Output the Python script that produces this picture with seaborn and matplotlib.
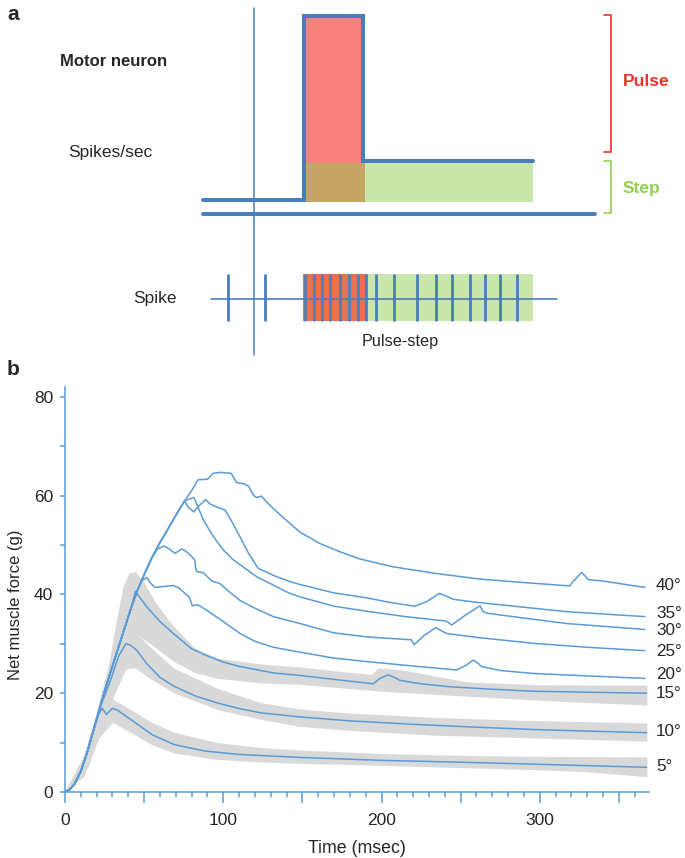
import numpy as np
import pandas as pd
import matplotlib
matplotlib.use("Agg")
import matplotlib.pyplot as plt
import seaborn as sns
from matplotlib.ticker import MultipleLocator, FuncFormatter

# ---------------- panel a: pulse-step schematic (arbitrary units) ----------------
t_start, t_onset, t_pulse_end, t_step_end, t_axis_end = -51, 50, 109, 279, 341
rate_base, rate_step, rate_pulse = 14, 53, 198
spike_times = [-26, 11, 51, 60, 68, 76, 86, 95, 104, 112,
               122, 140, 163, 182, 198, 216, 231, 246, 263]
pulse_spike_block = [49, 113]
step_spike_block = [113, 279]

# ---------------- panel b: net muscle force (g) vs time (msec) ----------------
rise_t = [0, 3, 6, 10, 14, 18, 22, 26, 30, 34, 38, 42, 46, 50, 55, 60, 65, 70, 75.5]
rise_f = [0, 0.5, 1.6, 4.2, 8, 12.5, 17, 21.5, 25.5, 29.5, 33.5, 37.5, 41, 44, 47.5, 50.5, 53.2, 56, 58.9]

t40 = [80, 84, 90, 93.5, 98, 105, 107, 108.5, 113, 116, 119, 121, 124, 129.5, 138, 148.5, 161, 174,
       186, 207, 233, 262, 290, 319, 321, 326.4, 329, 330.5, 340, 366.5]
f40 = [61, 63.2, 63.3, 64.5, 64.7, 64.5, 63.4, 62.6, 62.4, 61.9, 60.1, 59.6, 59.9, 58.0, 55.5, 52.6, 50.3, 48.6,
       47.2, 45.6, 44.3, 43.1, 42.4, 41.7, 42.6, 44.4, 43.6, 43.0, 42.7, 41.4]

t35 = [78, 81.5, 84.2, 88.9, 91.6, 97.9, 101, 105, 110.5, 116, 122, 132, 142, 148.5, 170, 190.6,
       205, 221, 228.4, 236.5, 240, 245.4, 260, 275, 317, 366.4]
f35 = [57.6, 56.7, 57.8, 59.2, 58.3, 57.4, 57.1, 55, 51.7, 48.3, 45.3, 43.8, 42.6, 42.0, 40.3, 39.3,
       38.4, 37.6, 38.5, 40.2, 39.8, 39.0, 38.4, 37.9, 36.5, 35.5]

t30 = [78.5, 81.5, 83.2, 87.4, 93.7, 100, 106.3, 121, 142, 148.5, 170, 190.6, 215, 241, 244.3,
       253, 262.2, 264, 266.5, 290, 317, 366.4]
f30 = [59.3, 59.6, 58.3, 55.1, 51.7, 49.0, 47.0, 43.6, 40.2, 39.5, 37.6, 36.6, 35.5, 34.6, 33.8,
       35.8, 37.7, 36.6, 36.2, 35.2, 34.1, 32.9]

t25 = [58.5, 62.5, 66, 69.5, 73.7, 76.5, 79, 81.9, 82.5, 83.2, 87.4, 92.7, 97.9, 102, 110.5, 120,
       131.6, 148.5, 170, 190.6, 219, 220.5, 227, 234.4, 238, 241, 260, 295.8, 330, 366.4]
f25 = [49.2, 49.8, 49.2, 48.3, 49.2, 48.7, 48.0, 47.0, 45.5, 44.6, 44.4, 42.7, 42.2, 41.0, 38.8, 37.2,
       35.5, 34.1, 32.2, 31.4, 30.8, 29.8, 31.7, 33.3, 32.6, 32.1, 31.3, 30.1, 29.3, 28.6]

t20 = [48.5, 51.6, 54, 56.9, 62, 68.4, 72, 75.8, 78.5, 80.4, 83.9, 89.5, 100, 110.5, 120, 131.6,
       148.5, 170, 190.6, 220, 247.4, 253.7, 257.9, 260.5, 263.2, 275, 295.8, 330, 366.4]
f20 = [42.8, 43.4, 42.3, 41.4, 41.6, 41.8, 41.3, 40.2, 39.5, 37.7, 37.9, 36.8, 34.5, 32.1, 30.5, 29.3,
       28.3, 27.1, 26.4, 25.5, 24.7, 25.7, 26.7, 26.2, 25.4, 24.6, 24.0, 23.5, 23.0]

t15 = [44.5, 47, 51.6, 60, 68.4, 80, 89.5, 100, 110.5, 131.6, 148.5, 170, 194.8, 199, 204.2, 208,
       211.6, 225, 243.2, 270, 295.8, 330, 367.5]
f15 = [40.6, 39.5, 37.5, 34.5, 32.1, 29.0, 27.6, 26.3, 25.4, 24.1, 23.6, 22.8, 21.9, 23.0, 23.7, 23.2,
       22.6, 21.9, 21.3, 20.8, 20.4, 20.2, 20.0]

t10 = [26, 29.5, 34, 38.5, 41, 45.3, 51.6, 60, 68.9, 82.7, 96.5, 110, 124, 148.5, 180, 220, 253.7, 300, 367.5]
f10 = [20.3, 23.3, 27.6, 30.0, 29.8, 28.7, 26.0, 23.2, 21.4, 19.4, 18.0, 16.9, 16.0, 15.2, 14.4, 13.7, 13.2, 12.6, 12.0]

t5 = [21, 23.4, 26.2, 29.8, 33, 41.4, 48, 55.1, 68.9, 88.2, 110, 148.5, 200, 253.7, 300, 367.5]
f5 = [15.5, 17.0, 15.7, 16.9, 16.6, 14.7, 13.2, 11.6, 9.6, 8.3, 7.6, 7.0, 6.4, 6.0, 5.6, 5.0]

# gray variability bands for 5, 10 and 15 deg
band15_top_t = [0, 10, 20, 28, 33, 37, 40.5, 45, 50, 57, 68, 82, 96.5, 124, 148.5, 178, 194, 198, 212, 254, 300, 368]
band15_top_f = [0, 5, 16, 26, 35, 41.5, 44.2, 44.5, 42.5, 38.5, 33.8, 29.1, 27.0, 25.8, 25.2, 24.2, 23.7, 25.0, 24.7, 22.2, 21.6, 21.5]
band15_bot_t = [0, 12, 22, 30, 37, 42.8, 47, 55, 69, 83, 96.5, 124, 148.5, 200, 254, 310, 368]
band15_bot_f = [0, 3, 12, 21, 27.8, 31.1, 31.5, 29.7, 26.3, 24.0, 22.9, 22.0, 21.7, 20.3, 19.3, 18.3, 17.5]

band10_top_t = [0, 15, 25, 33, 40, 47, 55, 69, 96.5, 124, 148.5, 179, 234, 290, 368]
band10_top_f = [0, 9, 20, 29, 31.2, 31.5, 29, 25, 20.9, 18.0, 16.7, 15.9, 15.0, 14.4, 13.9]
band10_bot_t = [0, 15, 25, 38.6, 44.1, 55, 69, 96.5, 124, 148.5, 179, 234, 290, 368]
band10_bot_f = [0, 5, 15, 24.7, 25.1, 22.7, 20, 16.6, 14.6, 13.2, 12.4, 11.4, 10.9, 10.2]

band5_top_t = [0, 10, 20, 24.9, 30.4, 41.4, 55, 69, 96.5, 124, 148.5, 200, 254, 300, 368]
band5_top_f = [0, 5, 15, 18, 18.7, 16.7, 14, 12, 9.9, 8.9, 8.4, 7.7, 7.3, 7.1, 7.0]
band5_bot_t = [0, 12, 22, 30.4, 41.4, 55, 69, 96.5, 124, 148.5, 200, 254, 300, 330, 368]
band5_bot_f = [0, 3, 11, 14, 12.0, 9.5, 7.8, 6.5, 6.0, 5.7, 5.3, 4.8, 4.4, 4.0, 3.0]

angles = [40, 35, 30, 25, 20, 15, 10, 5]
label_y = [41.7, 36.1, 32.6, 28.4, 23.7, 20.0, 12.2, 5.1]

# each curve shares the early rise, then branches off
curves = {
    40: (rise_t + t40, rise_f + f40),
    35: (rise_t + t35, rise_f + f35),
    30: (rise_t + t30, rise_f + f30),
    25: (rise_t[:15] + t25, rise_f[:15] + f25),
    20: (rise_t[:13] + t20, rise_f[:13] + f20),
    15: (rise_t[:12] + t15, rise_f[:12] + f15),
    10: (rise_t[:7] + t10, rise_f[:7] + f10),
    5: (rise_t[:6] + t5, rise_f[:6] + f5),
}
rows = []
for ang, (tt, ff) in curves.items():
    for a, b in zip(tt, ff):
        rows.append((ang, a, b))
df = pd.DataFrame(rows, columns=["angle", "time", "force"])

sns.set_style("white")
plt.rcParams['font.family'] = ['Liberation Sans', 'DejaVu Sans']

BLUE = '#4A7EBB'
LINE = '#5B9BD5'
GRAY = '#D9D9D9'
RED = '#E8332A'
GREEN = '#92D050'

fig = plt.figure(figsize=(6.85, 8.58), dpi=100)

# ---- panel a ----
ax_a = fig.add_axes([0, 1 - 360 / 858, 1, 360 / 858])
ax_a.set_xlim(-254, 431)
ax_a.set_ylim(-146.3, 213.7)
ax_a.axis('off')

fill_floor = 12
ax_a.fill_between([t_onset, t_pulse_end + 1], rate_step - 2, rate_pulse, color='#F8807E', lw=0)
ax_a.fill_between([t_onset, t_pulse_end + 2], fill_floor, rate_step - 2, color='#C6A664', lw=0)
ax_a.fill_between([t_pulse_end + 2, t_step_end], fill_floor, rate_step - 1, color='#C9E7AA', lw=0)
ax_a.plot([t_start, t_onset, t_onset, t_pulse_end, t_pulse_end, t_step_end],
          [rate_base, rate_base, rate_pulse, rate_pulse, rate_step, rate_step],
          color=BLUE, lw=2.9, solid_joinstyle='miter')
ax_a.plot([t_start, t_axis_end], [0, 0], color=BLUE, lw=2.9)
ax_a.plot([0, 0], [-141, 206], color=BLUE, lw=1.1)

# brackets
ax_a.plot([350, 357, 357, 350], [198.7, 198.7, 61.7, 61.7], color=RED, lw=1.2)
ax_a.plot([350, 357, 357, 350], [52.7, 52.7, 0.4, 0.4], color=GREEN, lw=1.2)
ax_a.text(368.7, 131.7, 'Pulse', color=RED, fontsize=12.5, fontweight='bold', va='center', ha='left')
ax_a.text(368.7, 25.7, 'Step', color=GREEN, fontsize=12.5, fontweight='bold', va='center', ha='left')

# spike raster
ax_a.fill_between(pulse_spike_block, -107.3, -60.3, color='#E8714E', lw=0)
ax_a.fill_between(step_spike_block, -107.3, -60.3, color='#C9E7AA', lw=0)
ax_a.plot([-43.3, 303], [-85, -85], color=BLUE, lw=1.2)
ax_a.vlines(spike_times, -107.3, -60.3, color=BLUE, lw=2.0)

ax_a.text(-247, 198.7, 'a', fontsize=15, fontweight='bold', va='center', ha='left')
ax_a.text(-194, 151.7, 'Motor neuron', fontsize=12, fontweight='bold', va='center', ha='left')
ax_a.text(-186.3, 60.7, 'Spikes/sec', fontsize=12.5, va='center', ha='left')
ax_a.text(-99, -84.3, 'Spike', fontsize=12.5, va='center', ha='center')
ax_a.text(146, -128, 'Pulse-step', fontsize=11.7, va='center', ha='center')

# ---- panel b ----
ax = fig.add_axes([65 / 685, 66 / 858, 584 / 685, 405.1 / 858])
for (tt, tf, bt, bf) in [(band15_top_t, band15_top_f, band15_bot_t, band15_bot_f),
                         (band10_top_t, band10_top_f, band10_bot_t, band10_bot_f),
                         (band5_top_t, band5_top_f, band5_bot_t, band5_bot_f)]:
    ax.fill(np.r_[tt, bt[::-1]], np.r_[tf, bf[::-1]], color=GRAY, lw=0, zorder=1)

sns.lineplot(data=df, x="time", y="force", units="angle", estimator=None, sort=False,
             color=LINE, lw=1.1, ax=ax, zorder=3)

for ang, yl in zip(angles, label_y):
    ax.text(373.5, yl, f'{ang}°', fontsize=12.3, va='center', ha='left', clip_on=False)

ax.set_xlim(0, 369)
ax.set_ylim(0, 82)
sns.despine(ax=ax)
for side in ['left', 'bottom']:
    ax.spines[side].set_color(LINE)
    ax.spines[side].set_linewidth(1.1)

ax.xaxis.set_major_locator(MultipleLocator(50))
ax.xaxis.set_minor_locator(MultipleLocator(10))
ax.xaxis.set_major_formatter(FuncFormatter(lambda v, p: f'{int(v)}' if int(v) % 100 == 0 else ''))
ax.yaxis.set_major_locator(MultipleLocator(20))
ax.yaxis.set_minor_locator(MultipleLocator(10))
ax.tick_params(axis='x', which='major', direction='out', length=8, width=1.1, color=LINE,
               labelsize=12.5, pad=7, bottom=True)
ax.tick_params(axis='x', which='minor', direction='out', length=3.6, width=1.1, color=LINE, bottom=True)
ax.tick_params(axis='y', which='both', direction='out', length=3.6, width=1.1, color=LINE,
               labelsize=12.5, pad=5, left=True)

ax.set_xlabel('Time (msec)', fontsize=12.8)
ax.set_ylabel('Net muscle force (g)', fontsize=12)
ax.xaxis.set_label_coords(0.5, -0.118)
ax.yaxis.set_label_coords(-0.072, 0.4616)

fig.text(7 / 685, 1 - 370 / 858, 'b', fontsize=15, fontweight='bold', va='center', ha='left')

fig.savefig('out.png', dpi=100)
